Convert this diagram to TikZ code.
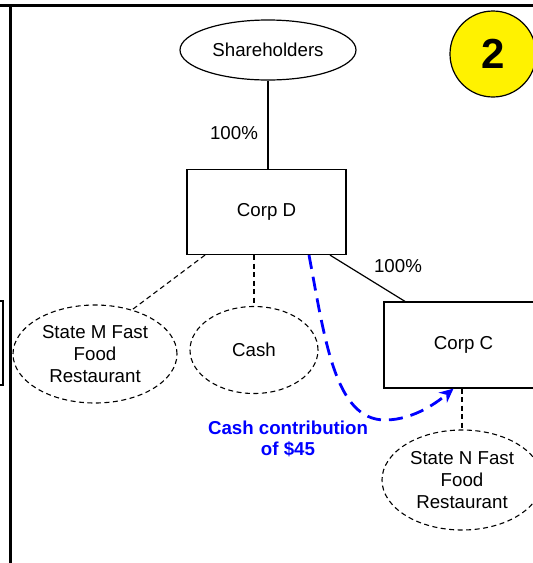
\documentclass[tikz,border=0pt]{standalone}
\usepackage{fontspec}
\setmainfont{Liberation Sans}
\usetikzlibrary{arrows.meta,shapes.geometric}
\begin{document}
\begin{tikzpicture}[x=1pt,y=-1pt,
  txt/.style={font=\fontsize{18.7}{21.8}\selectfont, align=center},
  solidbox/.style={draw, line width=1.2pt, inner sep=0pt, txt},
  dashell/.style={draw, ellipse, dash pattern=on 5pt off 3.5pt, line width=1.1pt, inner sep=0pt, txt},
  link/.style={line width=1.2pt},
  dlink/.style={line width=1.1pt, dash pattern=on 5pt off 3.5pt},
  flow/.style={draw=blue, line width=2.8pt, dash pattern=on 14pt off 8pt, -{Stealth[length=14pt,width=13pt]}}
]
\useasboundingbox (0,0) rectangle (533,563);
\begin{scope}
\clip (0,0) rectangle (533,563);
% frame
\draw[line width=3pt] (0,5) -- (540,5);
\draw[line width=3pt] (10,5) -- (10,570);
% partial box on left edge
\draw[line width=1.2pt] (-20,301) rectangle (3,385);
% badge
\node[circle, draw, line width=1.2pt, fill=yellow, minimum size=86pt, inner sep=0pt,
  font=\fontsize{42}{42}\selectfont\bfseries] (badge) at (493,54) {2};
% nodes
\node[draw, ellipse, line width=1.2pt, minimum width=176pt, minimum height=60pt, txt, inner sep=0pt] (sh) at (268,50) {Shareholders};
\node[solidbox, minimum width=159pt, minimum height=85pt] (cd) at (266.5,212) {Corp D};
\node[solidbox, minimum width=159pt, minimum height=86pt] (cc) at (463.5,345) {Corp C};
\node[dashell, minimum width=164pt, minimum height=98pt] (sm) at (95,354) {State M Fast\\Food\\Restaurant};
\node[dashell, minimum width=128pt, minimum height=87pt] (cash) at (254,350) {Cash};
\node[dashell, minimum width=160pt, minimum height=100pt] (sn) at (462,480) {State N Fast\\Food\\Restaurant};
% labels
\node[txt] (p1) at (234,133) {100\%};
\node[txt] (p2) at (398,266) {100\%};
\node[txt, text=blue, font=\fontsize{18.7}{21.8}\selectfont\bfseries] (cashlbl) at (288,439) {Cash contribution\\of \$45};
% connectors
\draw[link] (sh.south) -- (cd.north -| sh.south);
\draw[link] ([xshift=63.5pt]cd.south) -- ([xshift=-58.5pt]cc.north);
\draw[dlink] ([xshift=-61.5pt]cd.south) -- (sm.50);
\draw[dlink] (cd.south -| cash.north) -- (cash.north);
\draw[dlink] (cc.south -| sn.north) -- (sn.north);
\draw[flow] ([xshift=42.5pt]cd.south) .. controls (325,340) and (335,420) .. (385,420)
  .. controls (415,420) and (440,400) .. ([xshift=-10pt]cc.south);
\end{scope}
\end{tikzpicture}
\end{document}
